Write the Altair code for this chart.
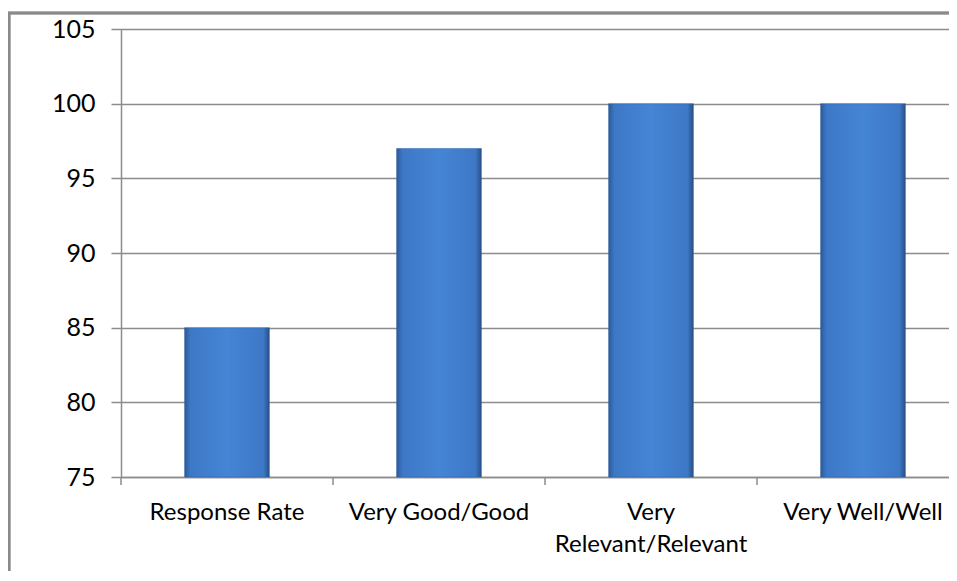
import altair as alt
import pandas as pd

categories = ["Response Rate", "Very Good/Good", "Very Relevant/Relevant", "Very Well/Well"]
values = [85, 97, 100, 100]
y_ticks = [75, 80, 85, 90, 95, 100, 105]

df = pd.DataFrame({"category": categories, "value": values})

FONT = "Lato"
grad = alt.LinearGradient(
    gradient="linear", x1=0, x2=1, y1=0, y2=0,
    stops=[
        alt.GradientStop(offset=0, color="#2b5a98"),
        alt.GradientStop(offset=0.07, color="#3d78c6"),
        alt.GradientStop(offset=0.5, color="#4585d5"),
        alt.GradientStop(offset=0.93, color="#3d78c6"),
        alt.GradientStop(offset=1, color="#284f86"),
    ],
)

x_scale = alt.Scale(range=[0, 848], paddingInner=0.6, paddingOuter=0.3)

x_enc = alt.X(
    "category:N", sort=categories, title=None, scale=x_scale,
    axis=alt.Axis(
        labelAngle=0, labelFont=FONT, labelFontSize=24, labelColor="#000000",
        labelPadding=23, labelLineHeight=32, labelBaseline="top", labelLimit=400,
        labelExpr="datum.label == 'Very Relevant/Relevant' ? ['Very', 'Relevant/Relevant'] : datum.label",
        ticks=False, domainColor="#8c8c8c", domainWidth=1.5, grid=False,
    ),
)
y_enc = alt.Y(
    "value:Q", title=None,
    scale=alt.Scale(domain=[75, 105], nice=False, zero=False),
    axis=alt.Axis(
        values=y_ticks, labelFont=FONT, labelFontSize=25, labelColor="#000000",
        labelPadding=16, tickSize=10, tickColor="#8c8c8c", tickWidth=1.5,
        domainColor="#8c8c8c", domainWidth=1.5, gridColor="#8c8c8c", gridWidth=1.5,
    ),
)

bars = alt.Chart(df).mark_bar(
    fill=grad, stroke="#2f5f9e", strokeWidth=0.5
).encode(x=x_enc, y=y_enc, y2=alt.datum(75))

# category-boundary tick marks: start of each category's slot
xticks = alt.Chart(df).mark_rule(
    color="#8c8c8c", strokeWidth=1.5, xOffset=-63.6
).encode(
    x=alt.X("category:N", sort=categories, bandPosition=0, scale=x_scale),
    y=alt.value(448), y2=alt.value(456),
)

frame = alt.Chart(df).mark_rect(
    fill=None, stroke="#8a8a8a", strokeWidth=2.5
).encode(
    x=alt.value(-112), x2=alt.value(1200), y=alt.value(-16), y2=alt.value(900)
)

chart = alt.layer(frame, bars, xticks).properties(
    width=828, height=448,
    padding={"left": 113, "top": 21, "right": 0, "bottom": 94},
    autosize=alt.AutoSizeParams(type="none"),
).configure_view(stroke=None).configure(background="#ffffff")

chart.save("out.html", embed_options={"renderer": "svg", "actions": False})
